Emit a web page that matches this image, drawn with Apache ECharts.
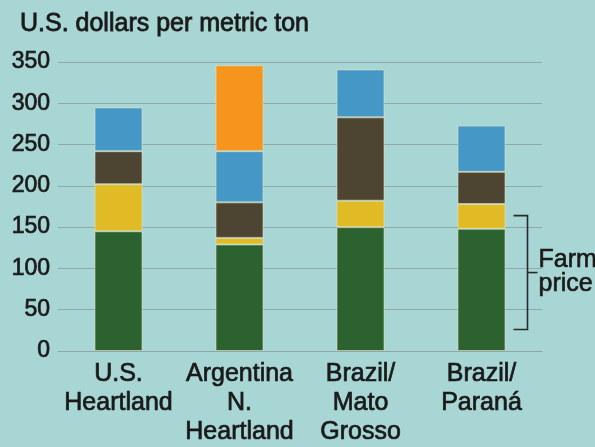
<!DOCTYPE html>
<html>
<head>
<meta charset="utf-8">
<script src="https://cdn.jsdelivr.net/npm/echarts@6/dist/echarts.min.js"></script>
<style>
html,body{margin:0;padding:0;background:#a7d6d4;}
#c{width:595px;height:447px;}
</style>
</head>
<body>
<div id="c"></div>
<script>
var categories = ['U.S.\nHeartland', 'Argentina\nN.\nHeartland', 'Brazil/\nMato\nGrosso', 'Brazil/\nParaná'];
var farmPrice = [145, 129, 150, 148];
var seg2 = [57, 8, 32, 30];
var seg3 = [40, 43, 101, 39];
var seg4 = [53, 62, 58, 56];
var seg5 = ['-', 104, '-', '-'];
var yTicks = [0, 50, 100, 150, 200, 250, 300, 350];
var bracketRange = [26, 164];
var bracketLabel = 'Farm\nprice';

var textColor = '#1a1a1a';
var colors = ['#2c6130', '#e0bb26', '#4d4532', '#4598c6', '#f6951e'];
var chart = echarts.init(document.getElementById('c'), null, {renderer: 'canvas'});
var segs = [farmPrice, seg2, seg3, seg4, seg5];
var names = ['Farm price', 'Segment 2', 'Segment 3', 'Segment 4', 'Segment 5'];
var series = segs.map(function (d, i) {
  return {
    type: 'bar', name: names[i], stack: 'total', data: d, barWidth: 48,
    itemStyle: {color: colors[i], borderColor: 'rgba(235,232,200,0.55)', borderWidth: 1},
    silent: true
  };
});
chart.setOption({
  backgroundColor: '#a7d6d4',
  animation: false,
  title: {
    text: 'U.S. dollars per metric ton', left: 15, top: 7,
    textStyle: {fontFamily: 'Liberation Sans', fontSize: 25, fontWeight: 'normal', color: textColor,
      textBorderColor: textColor, textBorderWidth: 0.8}
  },
  grid: {left: 58, right: 53, top: 62, bottom: 93},
  xAxis: {
    type: 'category', data: categories,
    axisLine: {show: true, lineStyle: {color: '#8fa8a5', width: 1}},
    axisTick: {show: false},
    axisLabel: {fontFamily: 'Liberation Sans', fontSize: 25, color: textColor, lineHeight: 29, margin: 9, interval: 0,
      textBorderColor: textColor, textBorderWidth: 0.7}
  },
  yAxis: {
    type: 'value', min: yTicks[0], max: yTicks[yTicks.length - 1], interval: 50,
    axisLine: {show: false}, axisTick: {show: false},
    splitLine: {lineStyle: {color: '#8fa8a5', width: 1}},
    axisLabel: {fontFamily: 'Liberation Sans', fontSize: 23, color: textColor, margin: 8,
      textBorderColor: textColor, textBorderWidth: 0.7}
  },
  series: series
});

function drawBracket() {
  var yTop = chart.convertToPixel({yAxisIndex: 0}, bracketRange[1]);
  var yBot = chart.convertToPixel({yAxisIndex: 0}, bracketRange[0]);
  var xc = chart.convertToPixel({xAxisIndex: 0}, 3);
  var x0 = xc + 32, x1 = xc + 46, x2 = xc + 56;
  var yMid = (yTop + yBot) / 2;
  chart.setOption({
    graphic: [
      {type: 'polyline', silent: true, shape: {points: [[x0, yTop], [x1, yTop], [x1, yBot], [x0, yBot]]},
        style: {stroke: '#2a2a2a', lineWidth: 1.6, fill: null}},
      {type: 'line', silent: true, shape: {x1: x1, y1: yMid, x2: x2, y2: yMid},
        style: {stroke: '#2a2a2a', lineWidth: 1.6}},
      {type: 'text', silent: true, x: x2 + 1, y: yMid,
        style: {text: bracketLabel, fontFamily: 'Liberation Sans', fontSize: 25, lineHeight: 24,
          fill: textColor, stroke: textColor, lineWidth: 0.6, verticalAlign: 'middle', align: 'left'}}
    ]
  });
}
drawBracket();
</script>
</body>
</html>
